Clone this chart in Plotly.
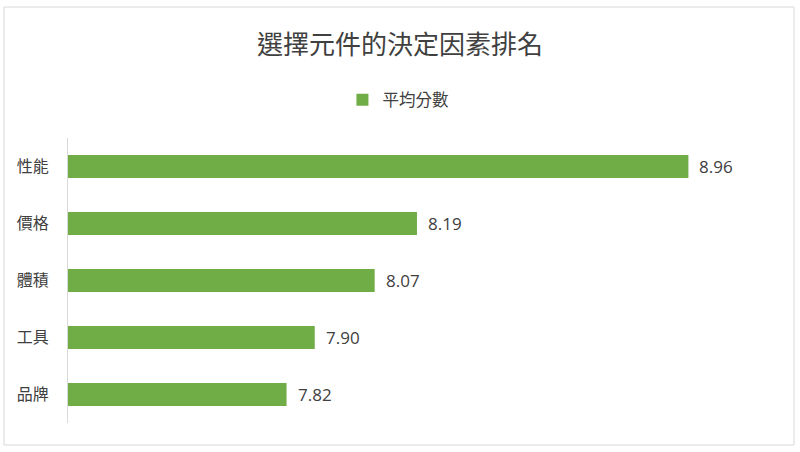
import plotly.graph_objects as go

# 選擇元件的決定因素排名 - average scores
factors = ['性能', '價格', '體積', '工具', '品牌']
scores = [8.96, 8.19, 8.07, 7.90, 7.82]

bar_color = '#70AD47'
text_color = '#404040'
font_name = 'Noto Sans CJK TC'

fig = go.Figure()

fig.add_trace(go.Bar(
    x=scores,
    y=factors,
    orientation='h',
    name='平均分數',
    marker=dict(color=bar_color, line=dict(width=0)),
    width=0.4,
))

# value labels next to the bar ends
for f, s in zip(factors, scores):
    fig.add_annotation(x=s, y=f, text=f'{s:.2f}', showarrow=False,
                       xanchor='left', xshift=9,
                       font=dict(family='Open Sans', size=17, color=text_color))

# light frame around the whole chart
fig.add_shape(type='rect', xref='paper', yref='paper',
              x0=-0.0908, x1=1.0298, y0=-0.0772, y1=1.4596,
              line=dict(color='#D9D9D9', width=1), layer='below')

fig.update_layout(
    width=800, height=452,
    margin=dict(l=68, r=27, t=138, b=29),
    paper_bgcolor='white', plot_bgcolor='white',
    font=dict(family=font_name, color=text_color),
    title=dict(text='選擇元件的決定因素排名', x=0.5, xanchor='center',
               y=0.9, yanchor='middle',
               font=dict(family=font_name, size=26, color=text_color)),
    showlegend=True,
    legend=dict(orientation='h', x=0.468, xanchor='center', y=1.133, yanchor='middle',
                font=dict(family=font_name, size=16.5, color=text_color),
                itemwidth=30),
    xaxis=dict(range=[7.2, 9.2], visible=False, showgrid=False, zeroline=False),
    yaxis=dict(autorange='reversed', showline=True, linecolor='#D9D9D9', linewidth=1,
               ticks='', ticklabelstandoff=15, showgrid=False,
               tickfont=dict(family=font_name, size=16, color=text_color)),
)

# drop the default page margin so the chart sits at the window corner
fig.write_html('out.html', config={'displayModeBar': False},
               post_script="document.body.style.margin='0';")
